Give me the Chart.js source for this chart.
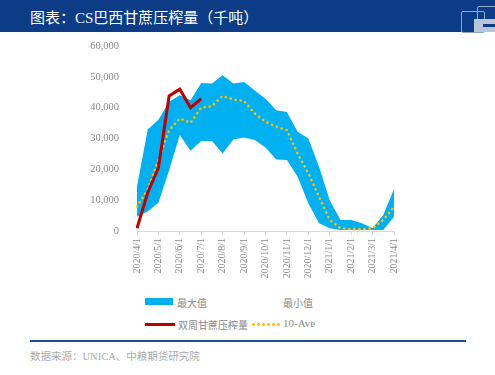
<!DOCTYPE html>
<html>
<head>
<meta charset="utf-8">
<script src="https://cdn.jsdelivr.net/npm/chart.js@4"></script>
<style>
  html, body { margin: 0; padding: 0; background: #fff; }
  body { width: 495px; height: 375px; position: relative; overflow: hidden;
         font-family: 'Liberation Serif', 'Noto Sans CJK SC', serif; }
  #head { position: absolute; left: 0; top: 0; width: 495px; height: 32px; background: #0b3c85; }
  #title { position: absolute; left: 30px; top: 6px; color: #fff; font-size: 15px;
           font-family: 'Liberation Serif', 'Noto Sans CJK SC', serif; }
  .logo-a { position: absolute; left: 461px; top: 11px; width: 22px; height: 20px;
            border: 1px solid #8fa6c9; border-radius: 2px; }
  .logo-b { position: absolute; left: 477px; top: 6px; width: 18px; height: 17px;
            border: 1px solid #8fa6c9; border-radius: 2px; }
  .logo-c { position: absolute; left: 474px; top: 19px; width: 21px; height: 13px; background: #b8c6dc; }
  .logo-d { position: absolute; left: 483px; top: 24px; width: 12px; height: 3px; background: #0b3c85; }
  #wrap { position: absolute; left: 0; top: 0; width: 495px; height: 290px; }
  #legend { position: absolute; left: 0; top: 0; font-size: 10px; color: #8a8a8a; }
  .li { position: absolute; white-space: nowrap; }
  #foot { position: absolute; left: 30px; top: 340px; width: 436px; height: 2px; background: #1d4d97; }
  #src { position: absolute; left: 30px; top: 348px; font-size: 10.5px; color: #ababab; }
</style>
</head>
<body>
<div id="head"><div id="title">图表：CS巴西甘蔗压榨量（千吨）</div>
  <div class="logo-a"></div><div class="logo-b"></div><div class="logo-c"></div><div class="logo-d"></div>
</div>
<div id="wrap"><canvas id="c" width="495" height="290"></canvas></div>
<div id="legend">
  <div class="li" style="left:145px;top:298px;width:28px;height:7px;background:#00b0f0"></div>
  <div class="li" style="left:177px;top:295px">最大值</div>
  <div class="li" style="left:283px;top:295px">最小值</div>
  <div class="li" style="left:145px;top:323px;width:30px;height:3px;background:#c00000"></div>
  <div class="li" style="left:178px;top:317px">双周甘蔗压榨量</div>
  <div class="li" style="left:251px;top:323px;width:30px;height:3px;
       background:radial-gradient(circle, #ffc000 1.2px, transparent 1.6px) 0 0/5px 3px repeat-x"></div>
  <div class="li" style="left:283px;top:317px;font-size:11px">10-Ave</div>
</div>
<div id="foot"></div>
<div id="src">数据来源：UNICA、中粮期货研究院</div>
<script>
// 双周日期（只显示每月1日）
const dates = [
  '2020/4/1','2020/4/16','2020/5/1','2020/5/16','2020/6/1','2020/6/16','2020/7/1','2020/7/16',
  '2020/8/1','2020/8/16','2020/9/1','2020/9/16','2020/10/1','2020/10/16','2020/11/1','2020/11/16',
  '2020/12/1','2020/12/16','2021/1/1','2021/1/16','2021/2/1','2021/2/16','2021/3/1','2021/3/16','2021/4/1'
];
const maxVals = [14400, 32900, 36100, 41900, 44000, 42400, 48000, 47800, 50500, 47800, 48300, 45600,
  42900, 39200, 38600, 32200, 30000, 20800, 10000, 3600, 3600, 2500, 900, 5200, 13600];
const minVals = [4600, 6300, 9200, 19700, 31100, 26000, 29200, 29200, 25100, 29700, 30300, 29500,
  27100, 23200, 23000, 17600, 9000, 2500, 900, 300, 300, 300, 300, 300, 4600];
const crush = [900, 12400, 20500, 43800, 46000, 40000, 42900];
const ave10 = [7900, 13500, 23000, 32700, 36500, 35100, 40000, 40500, 43800, 42600, 42200, 38100,
  35400, 33800, 32700, 25100, 18700, 11100, 3600, 900, 600, 600, 900, 3600, 7900];
const yTicks = [0, 10000, 20000, 30000, 40000, 50000, 60000];

const serif = "'Liberation Serif', 'Noto Sans CJK SC', serif";
const gray = '#8a8a8a';

new Chart(document.getElementById('c'), {
  type: 'line',
  data: {
    labels: dates,
    datasets: [
      { label: '双周甘蔗压榨量', data: crush, borderColor: '#c00000', borderWidth: 3,
        pointRadius: 0, fill: false, tension: 0 },
      { label: '10-Ave', data: ave10, borderColor: '#ffc000', borderWidth: 2.6,
        borderDash: [0.1, 5], borderCapStyle: 'round', pointRadius: 0, fill: false, tension: 0 },
      { label: '最大值', data: maxVals, borderWidth: 0, borderColor: 'rgba(0,0,0,0)',
        backgroundColor: '#00b0f0', pointRadius: 0, fill: '+1', tension: 0 },
      { label: '最小值', data: minVals, borderWidth: 0, borderColor: 'rgba(0,0,0,0)',
        pointRadius: 0, fill: false, tension: 0 },
    ],
  },
  options: {
    responsive: false,
    animation: false,
    layout: { padding: { left: 0, right: 101, top: 46, bottom: 0 } },
    plugins: { legend: { display: false }, tooltip: { enabled: false } },
    scales: {
      x: {
        type: 'category',
        offset: false,
        grid: { drawOnChartArea: false, drawTicks: true, tickLength: 4, color: '#d9d9d9' },
        border: { display: true, color: '#d9d9d9' },
        ticks: {
          autoSkip: false, minRotation: 90, maxRotation: 90, padding: 3,
          color: gray, font: { family: serif, size: 10 },
          callback(v, i) { return i % 2 === 0 ? dates[i] : null; },
        },
        afterFit(s) { s.height = 59; },
      },
      y: {
        min: 0, max: 60000,
        grid: { display: false },
        border: { display: false },
        afterBuildTicks(s) { s.ticks = yTicks.map(v => ({ value: v })); },
        ticks: {
          padding: 10, color: gray, font: { family: serif, size: 10.5 },
          callback(v) { return v.toLocaleString('en-US'); },
        },
        afterFit(s) { s.width = 137; },
      },
    },
  },
});
</script>
</body>
</html>
